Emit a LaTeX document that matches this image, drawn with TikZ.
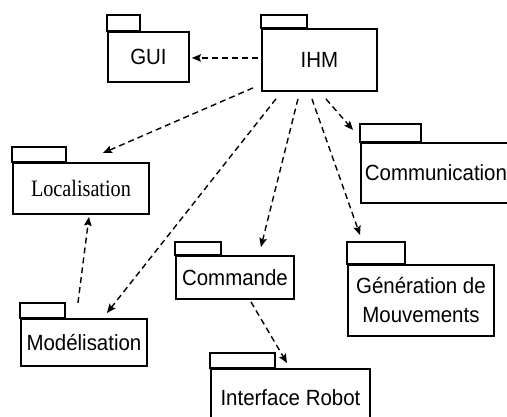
\documentclass[tikz,border=0pt]{standalone}
\usepackage{fontspec}
\setmainfont{Liberation Sans}[FakeStretch=0.93]
\newfontfamily\seriffont{Liberation Serif}[FakeStretch=0.86]
\usetikzlibrary{arrows.meta}
\begin{document}
\begin{tikzpicture}[x=1pt, y=-1pt,
    pkg/.style={draw, line width=1.9pt, anchor=north west, inner sep=0pt, align=center,
        font=\fontsize{22}{29}\selectfont},
    tab/.style={draw, line width=1.9pt},
    dep/.style={line width=1.4pt, dash pattern=on 6pt off 4pt,
        -{Stealth[length=9pt, width=7.5pt, inset=1.5pt]}}]
    \useasboundingbox (0,0) rectangle (507,417);
    % packages
    \node[pkg, minimum width=81pt, minimum height=50pt] (gui) at (107,31) {GUI};
    \node[pkg, minimum width=115pt, minimum height=62pt] (ihm) at (261,28) {IHM};
    \node[pkg, minimum width=150pt, minimum height=60pt] (comm) at (360,142) {Communication};
    \node[pkg, minimum width=136pt, minimum height=51pt, font=\seriffont\fontsize{23.5}{28}\selectfont] (loc) at (12,162) {Localisation};
    \node[pkg, minimum width=126pt, minimum height=47pt] (mod) at (20,318) {Modélisation};
    \node[pkg, minimum width=118pt, minimum height=43pt] (cmd) at (175,255) {Commande};
    \node[pkg, minimum width=146pt, minimum height=71pt] (gen) at (347,264) {Génération de\\Mouvements};
    \node[pkg, minimum width=159pt, minimum height=58pt] (robot) at (210,368) {Interface Robot};
    % tabs
    \foreach \n/\w/\h in {gui/33/16, ihm/46/13, comm/61/18, loc/54/15,
        mod/45/15, cmd/46/13, gen/58/22, robot/65/15}
        \draw[tab] (\n.north west) rectangle ++(\w,-\h);
    % dependencies
    \draw[dep] ([shift={(-3,-2)}]ihm.west) -- ([shift={(2,1)}]gui.east);
    \draw[dep] ([shift={(-8,-4)}]ihm.south west) -- ([shift={(22,-9)}]loc.north);
    \draw[dep] ([shift={(15,7)}]ihm.south west) -- ([shift={(23,-5)}]mod.north);
    \draw[dep] ([shift={(-21.5,7)}]ihm.south) -- ([shift={(26,-8)}]cmd.north);
    \draw[dep] ([shift={(-7.5,7)}]ihm.south) -- ([shift={(13,-29)}]gen.north west);
    \draw[dep] ([shift={(6.5,7)}]ihm.south) -- ([shift={(-7,-12)}]comm.north west);
    \draw[dep] ([shift={(-6,-15)}]mod.north) -- ([shift={(8,2)}]loc.south);
    \draw[dep] ([shift={(16,2)}]cmd.south) -- ([shift={(77,-5)}]robot.north west);
\end{tikzpicture}
\end{document}
